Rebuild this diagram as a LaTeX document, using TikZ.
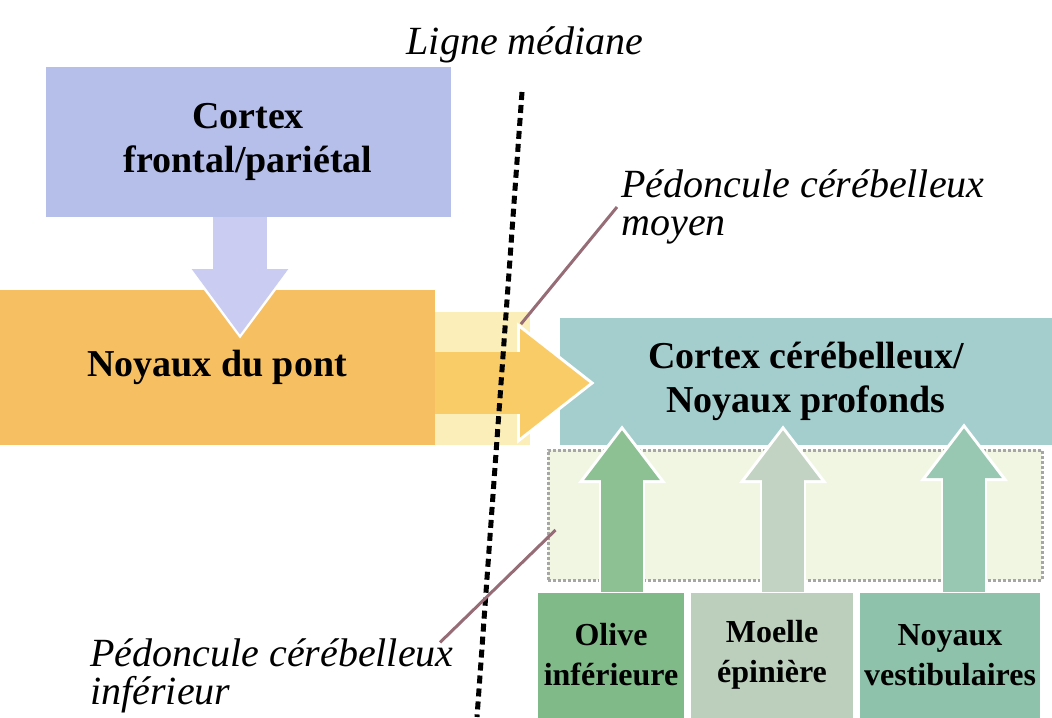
\documentclass[tikz,border=0pt]{standalone}
\usepackage{fontspec}
\setmainfont{Liberation Serif}
\usetikzlibrary{calc,arrows.meta}

\definecolor{corteBleu}{RGB}{182,190,234}
\definecolor{flecheBleu}{RGB}{202,204,242}
\definecolor{pontOrange}{RGB}{246,192,98}
\definecolor{flecheOrange}{RGB}{250,204,104}
\definecolor{pcmJaune}{RGB}{251,238,184}
\definecolor{cerTeal}{RGB}{164,206,206}
\definecolor{pciPale}{RGB}{241,246,226}
\definecolor{oliveVert}{RGB}{128,186,136}
\definecolor{moelleVert}{RGB}{188,206,188}
\definecolor{vestVert}{RGB}{142,194,170}
\definecolor{renvoi}{RGB}{150,108,118}

\tikzset{
	boite/.style={inner sep=0pt, align=center, font=\fontsize{19}{22}\selectfont\bfseries},
	petiteboite/.style={boite, font=\fontsize{16}{20}\selectfont\bfseries},
	legende/.style={inner sep=2pt, align=left, font=\fontsize{20}{19}\selectfont\itshape},
	grossefleche/.style={line width=27pt, -{Triangle[width=46pt,length=33pt]},
		preaction={draw=white, line width=30pt, shorten >=-2pt, -{Triangle[width=52pt,length=37pt]}}},
	flecheMoy/.style={line width=31pt, -{Triangle[width=52pt,length=35pt]},
		preaction={draw=white, line width=31pt, shorten >=-2.5pt, -{Triangle[width=58pt,length=39pt]}}},
	flecheVerte/.style={line width=21pt, -{Triangle[width=36pt,length=25pt]},
		preaction={draw=white, line width=23pt, shorten >=-2.5pt, -{Triangle[width=42pt,length=29pt]}}},
}

\begin{document}
\begin{tikzpicture}[x=0.5pt,y=-0.5pt]
\useasboundingbox (0,0) rectangle (1052,717);

%define coordinates
			\coordinate (pontIn) at (240,335);
			\coordinate (cerIn) at (590,383);
			\coordinate (oliveOut) at (622,430);
			\coordinate (moelleOut) at (783,430);
			\coordinate (vestOut) at (964,428);
			\coordinate (ligneHaut) at (522,92);
			\coordinate (ligneBas) at (477,717);

%draw peduncle zones
			\node[fill=pcmJaune, minimum width=95*0.5pt, minimum height=133*0.5pt] (pcmZone) at (482,378) {};
			\node[fill=pciPale, draw=gray!70, densely dotted, line width=1.5pt, minimum width=494*0.5pt, minimum height=130*0.5pt] (pciZone) at (795,515) {};

%draw boxes
			\node[boite, fill=corteBleu, minimum width=405*0.5pt, minimum height=150*0.5pt] (cortex) at (248,142) {Cortex\\frontal/pariétal};
			\node[boite, fill=pontOrange, minimum width=435*0.5pt, minimum height=155*0.5pt] (pont) at (217,367) {Noyaux du pont};
			\node[boite, fill=cerTeal, minimum width=492*0.5pt, minimum height=127*0.5pt] (cervelet) at (806,381) {Cortex cérébelleux/\\Noyaux profonds};
			\node[petiteboite, fill=oliveVert, minimum width=146*0.5pt, minimum height=125*0.5pt] (olive) at (611,655) {Olive\\inférieure};
			\node[petiteboite, fill=moelleVert, minimum width=162*0.5pt, minimum height=125*0.5pt] (moelle) at (772,655) {Moelle\\épinière};
			\node[petiteboite, fill=vestVert, minimum width=180*0.5pt, minimum height=125*0.5pt] (vest) at (950,655) {Noyaux\\vestibulaires};

%draw arrows
			\draw[grossefleche, flecheBleu] (cortex.south -| pontIn) -- (pontIn);
			\draw[flecheMoy, flecheOrange] (pont.east |- cerIn) -- (cerIn);
			\draw[flecheVerte, oliveVert!90!white] (olive.north -| oliveOut) -- (oliveOut);
			\draw[flecheVerte, moelleVert!90!white] (moelle.north -| moelleOut) -- (moelleOut);
			\draw[flecheVerte, vestVert!90!white] (vest.north -| vestOut) -- (vestOut);

%draw midline
			\draw[line width=2.5pt, dash pattern=on 4pt off 2.5pt] (ligneHaut) -- (ligneBas);
			\node[legende] (ligne) at (525,45) {Ligne médiane};

%draw labels
			\node[legende, anchor=west] (pcm) at (617,207) {Pédoncule cérébelleux\\moyen};
			\node[legende, anchor=west] (pci) at (86,676) {Pédoncule cérébelleux\\inférieur};
			\draw[renvoi, line width=1.5pt] (pcm.west) -- ($(pcmZone.north east)+(-9,13)$);
			\draw[renvoi, line width=1.5pt] ($(pci.north west)+(354,8)$) -- ($(pciZone.west)+(9,15)$);

\end{tikzpicture}
\end{document}
